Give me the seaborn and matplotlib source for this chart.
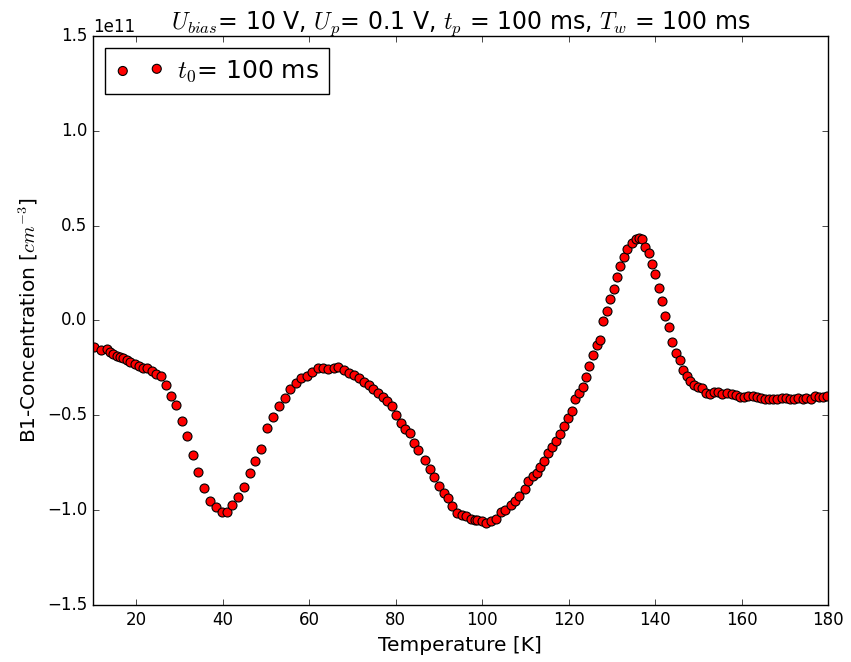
import numpy as np
import matplotlib
matplotlib.use("Agg")
import matplotlib.pyplot as plt
import seaborn as sns

# temperature [K] and concentration [1e11 cm^-3]
temperature = [
    10.3, 12.0, 13.2, 13.9, 14.6, 15.5, 16.2, 16.9, 17.9, 18.7, 19.7, 20.6, 21.6, 22.5,
    23.6, 24.6, 25.7, 27.0, 28.0, 29.2, 30.6, 31.8, 33.2, 34.4, 35.7, 37.1, 38.4, 39.8,
    41.0, 42.3, 43.6, 44.9, 46.3, 47.5, 48.8, 50.4, 51.6, 53.1, 54.4, 55.6, 56.9, 58.2,
    59.5, 60.7, 62.0, 63.3, 64.5, 65.7, 66.8, 68.0, 69.3, 70.4, 71.5, 72.6, 73.8, 74.8,
    76.0, 77.0, 78.1, 79.1, 80.2, 81.2, 82.3, 83.3, 84.2, 85.3, 86.9, 87.9, 88.9, 90.0,
    91.1, 92.1, 93.0, 94.2, 95.3, 96.4, 97.5, 98.3, 98.9, 99.9, 101.0, 102.0, 103.2, 104.3,
    105.4, 106.6, 107.6, 108.6, 109.9, 110.7, 111.8, 112.6, 113.4, 114.3, 115.3, 116.2,
    117.1, 118.0, 119.0, 119.8, 120.7, 121.6, 122.5, 123.3, 124.1, 124.8, 125.7, 126.5,
    127.3, 128.0, 128.9, 129.6, 130.5, 131.2, 132.0, 132.8, 133.6, 134.6, 135.6, 136.4,
    137.1, 137.7, 138.6, 139.3, 140.1, 140.9, 141.7, 142.4, 143.3, 144.0, 144.8, 145.7,
    146.4, 147.4, 148.1, 148.9, 149.9, 150.8, 151.7, 152.7, 153.7, 154.6, 155.5, 156.6,
    157.7, 158.7, 159.6, 160.6, 161.6, 162.6, 163.5, 164.4, 165.4, 166.4, 167.3, 168.3,
    169.3, 170.2, 171.2, 172.1, 173.1, 174.1, 175.0, 176.0, 177.0, 177.9, 178.9, 179.8,
]
concentration = [
    -0.140, -0.156, -0.150, -0.166, -0.177, -0.186, -0.192, -0.198, -0.208, -0.217, -0.228,
    -0.238, -0.249, -0.250, -0.266, -0.282, -0.293, -0.340, -0.400, -0.445, -0.530, -0.610,
    -0.710, -0.800, -0.885, -0.950, -0.983, -1.008, -1.010, -0.972, -0.929, -0.879, -0.802,
    -0.742, -0.678, -0.568, -0.511, -0.451, -0.407, -0.361, -0.328, -0.305, -0.294, -0.270,
    -0.252, -0.249, -0.257, -0.252, -0.247, -0.261, -0.275, -0.287, -0.303, -0.327, -0.338,
    -0.361, -0.384, -0.406, -0.426, -0.453, -0.501, -0.539, -0.571, -0.593, -0.644, -0.683,
    -0.735, -0.784, -0.823, -0.872, -0.908, -0.937, -0.977, -1.016, -1.023, -1.033, -1.045,
    -1.052, -1.052, -1.057, -1.066, -1.057, -1.046, -1.011, -0.999, -0.974, -0.949, -0.924,
    -0.890, -0.846, -0.820, -0.802, -0.771, -0.739, -0.700, -0.665, -0.634, -0.598, -0.556,
    -0.512, -0.475, -0.415, -0.384, -0.352, -0.296, -0.240, -0.180, -0.131, -0.104, -0.003,
    0.048, 0.112, 0.168, 0.231, 0.287, 0.333, 0.375, 0.410, 0.428, 0.433, 0.429, 0.387,
    0.357, 0.297, 0.245, 0.170, 0.103, 0.025, -0.036, -0.112, -0.170, -0.207, -0.261,
    -0.293, -0.320, -0.342, -0.349, -0.356, -0.381, -0.386, -0.378, -0.377, -0.387, -0.384,
    -0.389, -0.393, -0.405, -0.402, -0.396, -0.398, -0.405, -0.410, -0.414, -0.414, -0.414,
    -0.414, -0.410, -0.407, -0.414, -0.414, -0.410, -0.414, -0.410, -0.414, -0.396, -0.405,
    -0.402, -0.396,
]
conc = np.array(concentration) * 1e11

plt.style.use("classic")
plt.rcParams["mathtext.fontset"] = "cm"

fig, ax = plt.subplots(figsize=(8.51, 6.62), dpi=100, facecolor="white")
fig.subplots_adjust(left=0.109, right=0.973, top=0.946, bottom=0.086)

sns.scatterplot(
    x=temperature,
    y=conc,
    color="red",
    edgecolor="black",
    linewidth=0.8,
    s=42,
    label=r"$t_0$= 100 ms",
    ax=ax
)

ax.set_xlim(10, 180)
ax.set_ylim(-1.5e11, 1.5e11)
ax.set_xlabel("Temperature [K]", fontsize=14.5)
ax.set_ylabel(r"B1-Concentration [$cm^{-3}$]", fontsize=14.5)
ax.set_title(r"$U_{bias}$= 10 V, $U_p$= 0.1 V, $t_p$ = 100 ms, $T_w$ = 100 ms", fontsize=17)
ax.legend(loc="upper left", scatterpoints=2, fontsize=18, handlelength=1.96, handletextpad=0.5)

plt.savefig("out.png", dpi=100, facecolor="white")
